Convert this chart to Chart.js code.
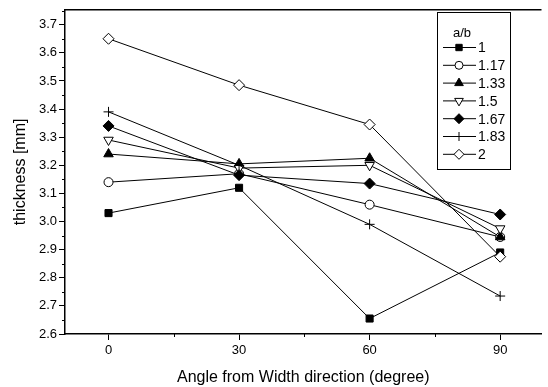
<!DOCTYPE html>
<html>
<head>
<meta charset="utf-8">
<script src="https://cdn.jsdelivr.net/npm/chart.js@4.4.1/dist/chart.umd.min.js"></script>
<style>
  html, body { margin: 0; padding: 0; background: #fff; }
  #wrap { width: 548px; height: 387px; }
</style>
</head>
<body>
<div id="wrap"><canvas id="myChart"></canvas></div>
<script>
// angle from width direction (degree)
const angles = [0, 30, 60, 90];
const xTicks = [0, 30, 60, 90];
const yTicks = [2.6, 2.7, 2.8, 2.9, 3.0, 3.1, 3.2, 3.3, 3.4, 3.5, 3.6, 3.7];

// thickness [mm] for each a/b ratio
const ratios = ['1', '1.17', '1.33', '1.5', '1.67', '1.83', '2'];
const t_1 = [3.03, 3.12, 2.655, 2.89];
const t_117 = [3.14, 3.17, 3.06, 2.945];
const t_133 = [3.24, 3.205, 3.225, 2.945];
const t_15 = [3.29, 3.19, 3.20, 2.975];
const t_167 = [3.34, 3.165, 3.135, 3.025];
const t_183 = [3.39, 3.20, 2.99, 2.735];
const t_2 = [3.65, 3.485, 3.345, 2.875];

const seriesValues = [t_1, t_117, t_133, t_15, t_167, t_183, t_2];
const markers = [
    { style: 'rect', fill: '#000', rot: 0, r: 5 },
    { style: 'circle', fill: '#fff', rot: 0, r: 4.5 },
    { style: 'triangle', fill: '#000', rot: 0, r: 5.5 },
    { style: 'triangle', fill: '#fff', rot: 180, r: 5.5 },
    { style: 'rectRot', fill: '#000', rot: 0, r: 5.5 },
    { style: 'cross', fill: '#000', rot: 0, r: 5 },
    { style: 'rectRot', fill: '#fff', rot: 0, r: 5.5 }
];

const FONT = '"Liberation Sans", Arial, sans-serif';

// later series are drawn on top, like in the original plot
const datasets = ratios.map((r, i) => ({
    label: r,
    data: angles.map((a, j) => ({ x: a, y: seriesValues[i][j] })),
    order: ratios.length - i,
    borderColor: '#000',
    borderWidth: 1,
    pointStyle: markers[i].style,
    pointRotation: markers[i].rot,
    pointRadius: markers[i].r,
    pointBackgroundColor: markers[i].fill,
    pointBorderColor: '#000',
    pointBorderWidth: 1,
    fill: false,
    tension: 0
}));

// minor ticks, top frame line and the boxed legend
const extras = {
    id: 'extras',
    afterDraw(chart) {
        const c = chart.ctx;
        const area = chart.chartArea;
        const xs = chart.scales.x, ys = chart.scales.y;
        c.save();
        c.strokeStyle = '#000';
        c.lineWidth = 1.5;
        c.beginPath();
        c.moveTo(area.left, area.top);
        c.lineTo(area.right, area.top);
        c.stroke();

        c.lineWidth = 1;
        c.beginPath();
        [15, 45, 75].forEach(v => {
            const px = Math.round(xs.getPixelForValue(v)) + 0.5;
            c.moveTo(px, area.bottom);
            c.lineTo(px, area.bottom + 3);
        });
        yTicks.forEach(v => {
            const py = Math.round(ys.getPixelForValue(v + 0.05)) + 0.5;
            if (py < area.top) return;
            c.moveTo(area.left, py);
            c.lineTo(area.left - 3, py);
        });
        c.stroke();

        // legend box
        const bx = 437, by = 12, bw = 73, bh = 157;
        c.lineWidth = 1;
        c.strokeRect(bx + 0.5, by + 0.5, bw, bh);
        c.fillStyle = '#000';
        c.font = '13px ' + FONT;
        c.textAlign = 'center';
        c.textBaseline = 'middle';
        c.fillText('a/b', 462, 33);
        c.textAlign = 'left';
        c.font = '14px ' + FONT;
        ratios.forEach((r, i) => {
            const y = 47.5 + i * 17.8;
            c.strokeStyle = '#000';
            c.lineWidth = 1;
            c.beginPath();
            c.moveTo(443, y);
            c.lineTo(476, y);
            c.stroke();
            c.fillStyle = markers[i].fill;
            Chart.helpers.drawPoint(c, {
                pointStyle: markers[i].style,
                rotation: markers[i].rot,
                radius: markers[i].r - 0.5,
                borderWidth: 1
            }, 459, y);
            c.fillStyle = '#000';
            c.fillText(r, 478, y + 1);
        });
        c.restore();
    }
};

new Chart(document.getElementById('myChart'), {
    type: 'line',
    data: { datasets: datasets },
    options: {
        responsive: true,
        maintainAspectRatio: false,
        animation: false,
        layout: { padding: { top: 6, left: 0, right: 0, bottom: 0 } },
        plugins: {
            legend: { display: false },
            tooltip: { enabled: false }
        },
        scales: {
            x: {
                type: 'linear',
                min: -10,
                max: 99.5,
                afterBuildTicks: s => { s.ticks = xTicks.map(v => ({ value: v })); },
                afterFit: s => { s.height = 53; },
                border: { color: '#000', width: 1.5 },
                grid: { drawOnChartArea: false, drawTicks: true, tickLength: 6, tickColor: '#000' },
                ticks: { color: '#000', padding: 3, font: { family: FONT, size: 13 }, maxRotation: 0 },
                title: {
                    display: true,
                    text: 'Angle from Width direction (degree)',
                    color: '#000',
                    font: { family: FONT, size: 16 },
                    padding: { top: 0, bottom: 0 }
                }
            },
            y: {
                min: 2.6,
                max: 3.753,
                afterBuildTicks: s => { s.ticks = yTicks.map(v => ({ value: v })); },
                afterFit: s => { s.width = 65; },
                border: { color: '#000', width: 1.5 },
                grid: { drawOnChartArea: false, drawTicks: true, tickLength: 6, tickColor: '#000' },
                ticks: {
                    color: '#000',
                    padding: 2,
                    font: { family: FONT, size: 13 },
                    callback: v => v.toFixed(1)
                },
                title: {
                    display: true,
                    text: 'thickness [mm]',
                    color: '#000',
                    font: { family: FONT, size: 16 },
                    padding: { top: 11, bottom: 0 }
                }
            }
        }
    },
    plugins: [extras]
});
</script>
</body>
</html>
